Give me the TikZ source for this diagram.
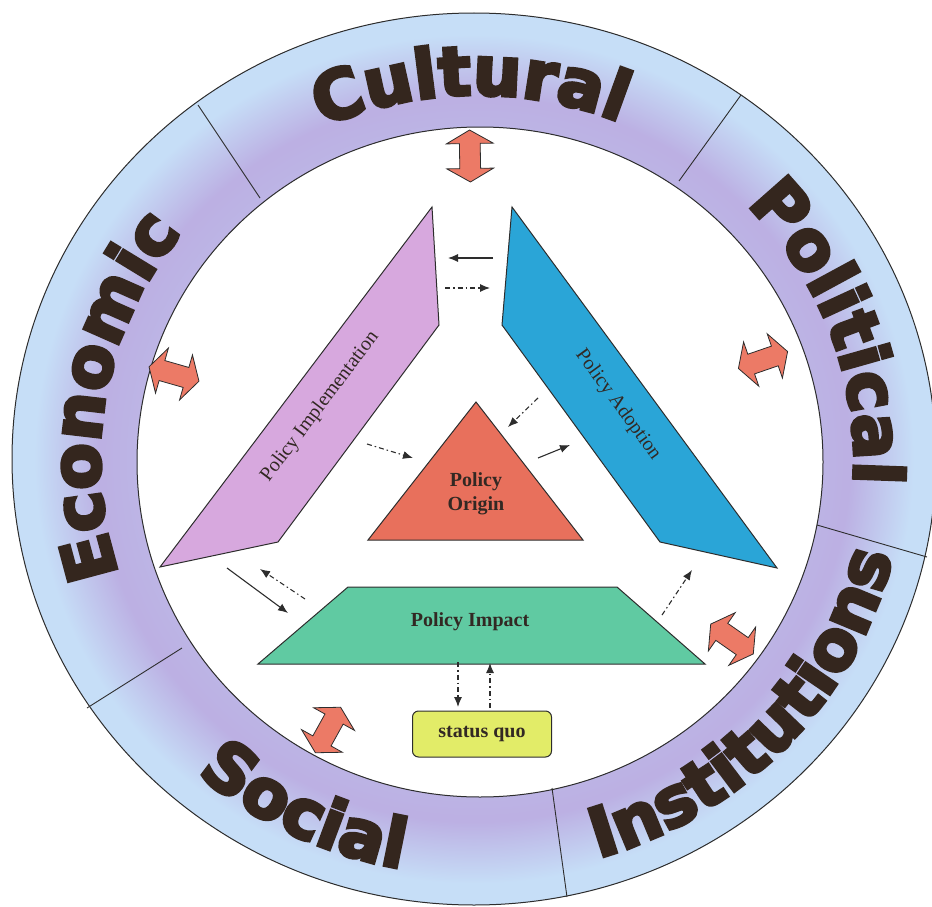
\documentclass[tikz,border=0pt]{standalone}
\usepackage{fontspec}
\setmainfont{Liberation Serif}
\newfontfamily\ringfont[UprightFeatures={FakeBold=5}, BoldFeatures={FakeBold=5}]{DejaVu Sans}
\usetikzlibrary{shapes.arrows,arrows.meta,decorations.text}

\definecolor{ringblue}{RGB}{198,222,247}
\definecolor{ringpurple}{RGB}{184,160,220}
\definecolor{ringink}{RGB}{52,38,30}
\definecolor{linegray}{RGB}{45,45,45}
\definecolor{txtdark}{RGB}{50,40,35}
\definecolor{implpink}{RGB}{215,168,222}
\definecolor{adoptblue}{RGB}{42,165,215}
\definecolor{originred}{RGB}{232,112,92}
\definecolor{impactgreen}{RGB}{96,202,162}
\definecolor{sqyellow}{RGB}{226,236,104}
\definecolor{arrowred}{RGB}{236,122,102}

\pgfdeclareradialshading{ringglow}{\pgfpoint{0bp}{0bp}}{color(0bp)=(ringblue); color(18bp)=(ringpurple!65!ringblue); color(20.3bp)=(ringpurple!75!ringblue); color(23.8bp)=(ringblue); color(50bp)=(ringblue)}

\tikzset{
  shp/.style={draw=linegray, line width=1pt},
  lbl/.style={font=\fontsize{20}{24}\selectfont, text=txtdark, align=center},
  dblarrow/.style={shape=double arrow, draw=linegray, fill=arrowred, line width=0.8pt,
    minimum height=52pt, inner sep=10pt, double arrow head extend=13pt,
    double arrow tip angle=120},
  link/.style={-{Latex[length=10pt,width=8pt]}, line width=1.1pt, draw=linegray},
  dlink/.style={link, dash pattern=on 5pt off 3pt on 1.5pt off 3pt},
  ringtxt/.style={decorate, decoration={text along path, text align=center,
    text={|\ringfont\bfseries\fontsize{68}{68}\selectfont\color{ringink}|#1}}}
}

\begin{document}
\begin{tikzpicture}[x=1pt,y=-1pt]
\useasboundingbox (0,0) rectangle (932,907);

% outer ring
\fill[ringblue, even odd rule] (474,459) ellipse [x radius=462, y radius=446]
  (480,462) ellipse [x radius=343, y radius=335];
\shade[even odd rule, shading=ringglow] (474,459) ellipse [x radius=462, y radius=446]
  (480,462) ellipse [x radius=343, y radius=335];
\draw[linegray, line width=1pt] (474,459) ellipse [x radius=462, y radius=446];
\draw[linegray, line width=1pt] (480,462) ellipse [x radius=343, y radius=335];
\draw[linegray, line width=0.9pt] (198,105) -- (260,198);
\draw[linegray, line width=0.9pt] (741,95) -- (679,181);
\draw[linegray, line width=0.9pt] (817,525) -- (927,557);
\draw[linegray, line width=0.9pt] (552,788) -- (567,897);
\draw[linegray, line width=0.9pt] (87,708) -- (182,648);

% ring labels
\path[ringtxt=Cultural] (477,460) ++(-151:377 and 365) arc[start angle=-151, end angle=-31, x radius=377, y radius=365];
\path[ringtxt=Political] (477,460) ++(-80:377 and 365) arc[start angle=-80, end angle=40, x radius=377, y radius=365];
\path[ringtxt=Economic] (477,460) ++(-230:377 and 365) arc[start angle=-230, end angle=-110, x radius=377, y radius=365];
\path[ringtxt=Institutions] (477,460) ++(103:427 and 415) arc[start angle=103, end angle=-17, x radius=427, y radius=415];
\path[ringtxt=Social] (477,460) ++(176:427 and 415) arc[start angle=176, end angle=56, x radius=427, y radius=415];

% double arrows to the ring
\node[dblarrow, rotate=91] (dcult) at (470,156) {};
\node[dblarrow, rotate=-16] (decon) at (174,374) {};
\node[dblarrow, rotate=19] (dpol) at (763,360) {};
\node[dblarrow, rotate=-35] (dinst) at (732,639) {};
\node[dblarrow, rotate=61] (dsoc) at (328,730) {};

% policy stages
\draw[shp, fill=implpink] (432,207) -- (439,325) -- (278,542) -- (160,567) -- cycle;
\draw[shp, fill=adoptblue] (512,207) -- (777,568) -- (660,542) -- (502,325) -- cycle;
\draw[shp, fill=originred] (476,402) -- (583,540) -- (368,540) -- cycle;
\draw[shp, fill=impactgreen] (348,587) -- (617,587) -- (705,664) -- (258,664) -- cycle;

\node[lbl, rotate=53] (impl) at (320,407) {Policy Implementation};
\node[lbl, rotate=-54] (adopt) at (618,405) {Policy Adoption};
\node[lbl, font=\fontsize{20}{24}\selectfont\bfseries] (origin) at (476,494) {Policy\\Origin};
\node[lbl, font=\fontsize{20}{24}\selectfont\bfseries] (impact) at (470,622) {Policy Impact};
\node[lbl, font=\fontsize{20}{24}\selectfont\bfseries, draw=linegray, line width=1pt,
  fill=sqyellow, rounded corners=6pt, minimum width=139pt, minimum height=46pt] (sq) at (482,734) {status quo};

% links between stages
\coordinate (ad1) at (493,258); \coordinate (im1) at (448,258);
\coordinate (im2) at (445,288); \coordinate (ad2) at (490,288);
\coordinate (im3) at (367,444); \coordinate (or1) at (413,458);
\coordinate (ad3) at (538,398); \coordinate (or2) at (508,427);
\coordinate (or3) at (538,458); \coordinate (ad4) at (570,445);
\coordinate (im4) at (227,568); \coordinate (ip1) at (288,613);
\coordinate (ip2) at (305,599); \coordinate (im5) at (260,569);
\coordinate (ip3) at (662,615); \coordinate (ad5) at (692,570);
\coordinate (ip4) at (458,662); \coordinate (sq1) at (458,707);
\coordinate (sq2) at (490,708); \coordinate (ip5) at (490,663);

\draw[link] (ad1) -- (im1);
\draw[dlink] (im2) -- (ad2);
\draw[dlink] (im3) -- (or1);
\draw[dlink] (ad3) -- (or2);
\draw[link] (or3) -- (ad4);
\draw[link] (im4) -- (ip1);
\draw[dlink] (ip2) -- (im5);
\draw[dlink] (ip3) -- (ad5);
\draw[dlink] (ip4) -- (sq1);
\draw[dlink] (sq2) -- (ip5);
\end{tikzpicture}
\end{document}
